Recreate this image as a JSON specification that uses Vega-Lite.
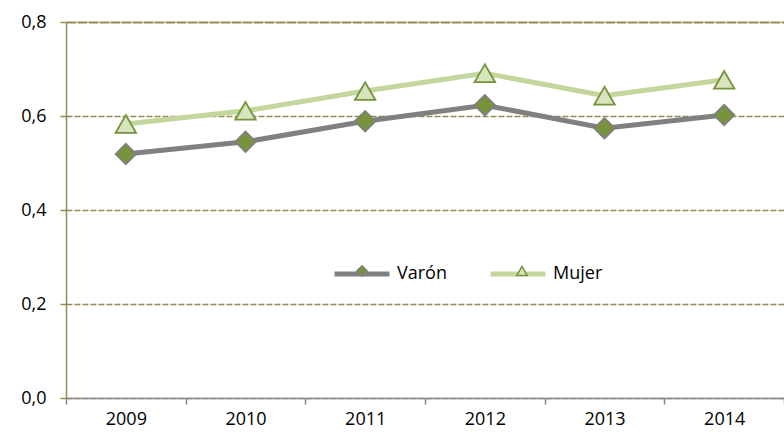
{
  "$schema": "https://vega.github.io/schema/vega-lite/v6.json",
  "width": 718,
  "height": 376,
  "autosize": {"type": "none"},
  "padding": {"left": 66, "top": 22, "right": 0, "bottom": 37},
  "background": "white",
  "config": {
    "font": "Open Sans",
    "view": {"stroke": null},
    "axis": {"labelFont": "Open Sans", "labelFontSize": 18, "labelColor": "#000000"},
    "legend": {"labelFont": "Open Sans", "labelFontSize": 18, "labelColor": "#000000"}
  },
  "data": {
    "values": [
      {"year": "2009", "Varón": 0.519, "Mujer": 0.583},
      {"year": "2010", "Varón": 0.545, "Mujer": 0.611},
      {"year": "2011", "Varón": 0.589, "Mujer": 0.653},
      {"year": "2012", "Varón": 0.623, "Mujer": 0.691},
      {"year": "2013", "Varón": 0.574, "Mujer": 0.643},
      {"year": "2014", "Varón": 0.602, "Mujer": 0.677}
    ]
  },
  "encoding": {
    "x": {
      "field": "year",
      "type": "ordinal",
      "scale": {"type": "band", "paddingInner": 0, "paddingOuter": 0},
      "axis": {
        "title": null,
        "labelAngle": 0,
        "tickBand": "extent",
        "domainColor": "#868686",
        "domainWidth": 1.5,
        "tickColor": "#868686",
        "tickWidth": 1.5,
        "tickSize": 6,
        "labelPadding": 6,
        "grid": false
      }
    }
  },
  "layer": [
    {
      "transform": [{"fold": ["Varón", "Mujer"], "as": ["serie", "valor"]}],
      "mark": {"type": "line", "strokeWidth": 5},
      "encoding": {
        "y": {
          "field": "valor",
          "type": "quantitative",
          "scale": {"domain": [0, 0.8], "nice": false},
          "axis": {
            "title": null,
            "values": [0, 0.2, 0.4, 0.6, 0.8],
            "labelExpr": "replace(format(datum.value, '.1f'), '.', ',')",
            "grid": true,
            "gridColor": "#948A54",
            "gridDash": {"condition": {"test": "datum.value >= 0.79", "value": [10, 1]}, "value": [6, 2]},
            "gridWidth": {"condition": {"test": "datum.value >= 0.79", "value": 2}, "value": 1.3},
            "domainColor": "#948A54",
            "domainWidth": 1.5,
            "tickColor": "#948A54",
            "tickSize": 6,
            "tickWidth": 1.5,
            "labelPadding": 14
          }
        },
        "color": {
          "field": "serie",
          "type": "nominal",
          "sort": ["Varón", "Mujer"],
          "scale": {"range": ["#808080", "#C3D69B"]},
          "legend": {
            "title": null,
            "orient": "none",
            "direction": "horizontal",
            "legendX": 266,
            "legendY": 222,
            "symbolType": "stroke",
            "symbolSize": 3025,
            "symbolStrokeWidth": 5,
            "labelOffset": 5,
            "columnPadding": 33
          }
        }
      }
    },
    {
      "transform": [{"fold": ["Varón", "Mujer"], "as": ["serie2", "valor2"]}],
      "mark": {"type": "point", "filled": true, "size": 420, "strokeWidth": 1.8, "opacity": 1},
      "encoding": {
        "y": {"field": "valor2", "type": "quantitative"},
        "shape": {
          "field": "serie2",
          "type": "nominal",
          "scale": {"domain": ["Varón", "Mujer"], "range": ["diamond", "triangle-up"]},
          "legend": {
            "title": null,
            "orient": "none",
            "direction": "horizontal",
            "legendX": 287,
            "legendY": 240,
            "symbolSize": 110,
            "symbolStrokeWidth": 1.5,
            "symbolOpacity": 1,
            "labelExpr": "''",
            "labelOffset": 0,
            "columnPadding": 142
          }
        },
        "fill": {
          "field": "serie2",
          "type": "nominal",
          "scale": {"domain": ["Varón", "Mujer"], "range": ["#77933C", "#D7E4BD"]}
        },
        "stroke": {
          "field": "serie2",
          "type": "nominal",
          "scale": {"domain": ["Varón", "Mujer"], "range": ["#7F7F7F", "#77933C"]}
        }
      }
    }
  ]
}
